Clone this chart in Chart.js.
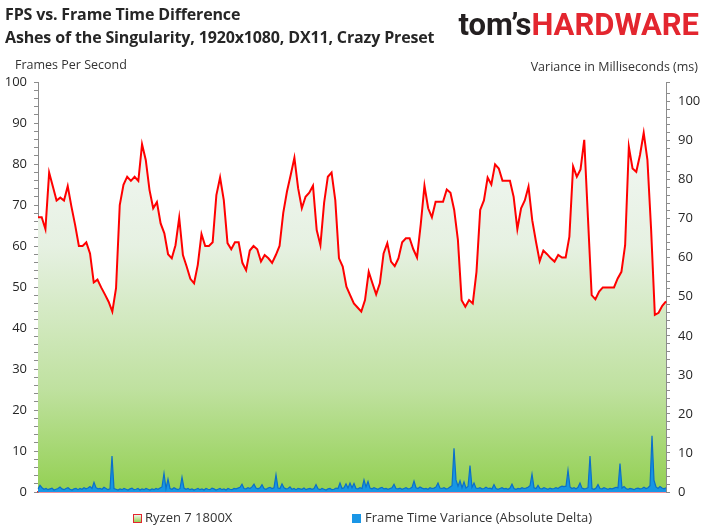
<!DOCTYPE html>
<html>
<head>
<meta charset="utf-8">
<script src="https://cdn.jsdelivr.net/npm/chart.js@4.4.1/dist/chart.umd.min.js"></script>
<style>
  html, body { margin: 0; padding: 0; background: #fff; }
  #wrap { position: relative; width: 708px; height: 531px; overflow: hidden; font-family: "Open Sans", sans-serif; color: #262626; }
  #wrap canvas { position: absolute; left: 0; top: 0; }
  .txt { position: absolute; white-space: nowrap; line-height: 1; }
  .title { font-weight: bold; font-size: 16px; left: 5px; letter-spacing: -0.15px; }
  .axt { font-size: 12.5px; color: #333; }
  .logo { top: 9px; right: 9px; font-family: Roboto, sans-serif; font-weight: bold; font-size: 31px; letter-spacing: 0; }
  .logo .a { color: #231f20; }
  .logo .b { color: #e3262f; }
  .leg { font-size: 13px; color: #333; top: 511px; }
  .box { position: absolute; width: 7px; height: 7px; top: 514px; }
</style>
</head>
<body>
<div id="wrap">
  <canvas id="fpsChart" width="708" height="531"></canvas>
  <div class="txt title" style="top:6px">FPS vs. Frame Time Difference</div>
  <div class="txt title" style="top:29px">Ashes of the Singularity, 1920x1080, DX11, Crazy Preset</div>
  <div class="txt logo"><span class="a">tom’s</span><span class="b">HARDWARE</span></div>
  <div class="txt axt" style="left:15px; top:59px">Frames Per Second</div>
  <div class="txt axt" style="right:10px; top:61px">Variance in Milliseconds (ms)</div>
  <div class="box" style="left:133px; border:1.5px solid #e3262f; background:linear-gradient(#eef6ea,#92d050)"></div>
  <div class="txt leg" style="left:145px">Ryzen 7 1800X</div>
  <div class="box" style="left:352px; width:9px; height:9px; background:#1a96e6"></div>
  <div class="txt leg" style="left:365px">Frame Time Variance (Absolute Delta)</div>
</div>
<script>
// FPS samples (left axis)
const fpsValues = [
  67.0, 67.0, 64.1, 77.9, 74.5, 71.1, 71.8, 71.1, 74.6, 69.6,
  65.1, 60.0, 60.0, 60.9, 58.2, 51.1, 51.8, 49.9, 48.2, 46.4,
  44.0, 49.7, 70.0, 74.9, 76.9, 75.9, 76.9, 75.9, 84.8, 81.0,
  73.7, 69.2, 70.7, 65.5, 63.1, 58.0, 57.0, 60.2, 66.9, 57.8,
  55.0, 52.0, 50.9, 55.4, 62.9, 60.0, 60.0, 60.9, 72.4, 76.7,
  71.2, 60.7, 59.2, 60.9, 60.9, 55.9, 54.1, 58.9, 60.0, 59.2,
  56.2, 57.8, 57.0, 55.9, 57.8, 60.0, 68.1, 73.3, 77.3, 81.5,
  74.1, 69.2, 72.0, 73.0, 74.7, 63.9, 60.2, 70.6, 76.9, 77.9,
  71.2, 57.0, 55.0, 50.1, 48.0, 46.0, 45.0, 44.0, 46.8, 53.7,
  50.9, 48.2, 50.9, 58.2, 60.7, 56.2, 55.1, 57.0, 60.9, 61.9,
  61.9, 59.2, 57.2, 65.3, 74.7, 69.2, 67.0, 70.8, 70.8, 70.8,
  73.8, 73.0, 68.8, 61.5, 46.8, 45.2, 46.8, 46.0, 53.7, 68.8,
  71.1, 76.7, 75.0, 79.9, 78.9, 75.9, 75.9, 75.9, 72.0, 64.1,
  69.2, 71.1, 74.5, 66.3, 61.1, 56.3, 58.9, 58.0, 57.0, 56.2,
  57.8, 57.2, 57.2, 62.3, 79.4, 76.9, 78.7, 85.9, 66.8, 48.0,
  47.0, 48.9, 49.9, 49.9, 49.9, 49.9, 52.1, 53.7, 60.2, 84.2,
  78.9, 78.1, 82.2, 87.6, 81.0, 63.9, 43.2, 43.7, 45.4, 46.5
];

// frame time variance in ms (right axis), per frame
const varianceValues = [
  0.8, 1.7, 1.1, 0.7, 0.9, 0.6, 0.8, 1.0, 0.5, 0.7, 0.9, 1.3, 0.8, 0.6, 0.9, 1.1, 0.7, 0.5, 0.8, 0.9,
  0.6, 0.9, 0.7, 1.1, 0.8, 1.0, 1.4, 0.9, 2.5, 1.1, 0.8, 0.9, 0.7, 1.2, 0.9, 0.6, 0.8, 9.2, 0.9, 0.7,
  0.5, 0.8, 0.6, 0.9, 0.7, 0.5, 0.8, 1.0, 0.6, 0.7, 0.9, 0.5, 0.8, 0.6, 0.9, 0.7, 0.5, 0.8, 0.6, 0.9,
  0.7, 1.0, 1.3, 4.8, 0.9, 3.3, 0.9, 0.7, 1.1, 0.8, 0.6, 0.9, 3.8, 1.0, 0.7, 0.9, 0.6, 0.8, 0.5, 0.7,
  0.9, 0.6, 0.8, 0.5, 0.9, 0.7, 0.6, 1.0, 0.8, 0.5, 0.7, 0.9, 0.6, 0.8, 0.5, 0.9, 0.7, 0.6, 0.9, 0.8,
  1.0, 1.2, 2.0, 0.9, 0.8, 1.1, 0.9, 1.3, 2.0, 1.0, 0.8, 1.1, 1.9, 0.9, 0.7, 1.0, 1.2, 0.9, 1.1, 4.4,
  1.0, 0.9, 2.1, 1.1, 0.8, 0.9, 1.3, 0.7, 0.9, 0.6, 0.9, 0.8, 0.7, 1.0, 0.6, 0.8, 0.9, 0.7, 0.9, 1.9,
  0.8, 0.6, 0.9, 0.7, 0.5, 0.8, 0.9, 0.6, 0.7, 1.0, 0.9, 2.3, 0.9, 1.1, 2.1, 1.0, 2.3, 1.1, 2.2, 0.9,
  0.8, 1.1, 0.9, 3.1, 1.3, 2.7, 1.0, 0.8, 1.1, 0.9, 0.7, 1.0, 1.2, 0.8, 0.9, 0.7, 0.9, 1.1, 2.0, 0.9,
  0.8, 1.0, 0.7, 0.9, 1.1, 0.8, 0.9, 1.2, 2.8, 1.1, 0.9, 1.3, 1.0, 0.8, 0.9, 0.7, 1.1, 0.9, 1.0, 1.3,
  2.3, 1.0, 0.9, 1.1, 0.8, 0.9, 1.3, 1.6, 11.2, 3.1, 1.5, 2.9, 1.1, 2.6, 1.0, 1.4, 6.8, 1.2, 2.3, 1.0,
  0.9, 1.1, 0.8, 0.9, 1.2, 0.9, 1.0, 0.8, 1.9, 0.9, 0.7, 0.9, 1.1, 0.8, 0.9, 0.7, 1.0, 2.0, 0.9, 0.7,
  0.9, 0.8, 1.1, 0.9, 1.0, 1.2, 1.6, 4.6, 1.1, 0.9, 1.7, 0.9, 0.8, 1.1, 0.9, 0.7, 1.0, 0.8, 0.9, 1.1,
  0.9, 1.3, 1.5, 1.4, 1.5, 5.6, 1.3, 0.9, 1.1, 0.8, 1.2, 2.3, 1.0, 0.8, 0.9, 1.1, 9.2, 0.9, 0.7, 1.0,
  1.9, 0.9, 0.8, 1.1, 0.9, 0.7, 0.9, 0.8, 1.0, 1.2, 1.1, 7.3, 1.0, 1.4, 0.9, 0.7, 0.9, 0.8, 0.6, 0.9,
  1.0, 0.8, 0.9, 1.2, 0.9, 1.1, 1.6, 14.4, 3.0, 1.3, 0.9, 1.4, 1.0, 0.8, 1.1
];

const fpsLabels = fpsValues.map((v, i) => i + 1);
const varianceLabels = varianceValues.map((v, i) => i + 1);

const fpsMax = 100;
const varianceMax = 105;

const axisGray = '#8c8c8c';
const tickFont = { family: 'Open Sans', size: 13 };

function fpsGradient(context) {
  const chart = context.chart;
  const area = chart.chartArea;
  if (!area) return 'rgba(146,208,80,0.5)';
  const g = chart.ctx.createLinearGradient(0, area.top, 0, area.bottom);
  g.addColorStop(0, '#f8fafc');
  g.addColorStop(0.4, '#e6f1e2');
  g.addColorStop(0.75, '#bfe19f');
  g.addColorStop(1, '#93d052');
  return g;
}

const tenOnly = v => (v % 10 === 0 ? v : '');

new Chart(document.getElementById('fpsChart'), {
  type: 'line',
  data: {
    datasets: [
      {
        label: 'Frame Time Variance (Absolute Delta)',
        data: varianceValues,
        xAxisID: 'x2', yAxisID: 'y2',
        borderColor: '#0b6fc8', borderWidth: 1.2,
        backgroundColor: '#1796e4',
        fill: 'origin', pointRadius: 0, tension: 0, order: 0
      },
      {
        label: 'Ryzen 7 1800X',
        data: fpsValues,
        xAxisID: 'x', yAxisID: 'y',
        borderColor: '#ff0000', borderWidth: 2,
        backgroundColor: fpsGradient,
        fill: 'origin', pointRadius: 0, tension: 0, order: 1
      }
    ]
  },
  options: {
    responsive: false, animation: false,
    layout: { padding: { top: 82, bottom: 39, left: 0, right: 0 } },
    plugins: { legend: { display: false }, tooltip: { enabled: false } },
    scales: {
      x: {
        type: 'category', labels: fpsLabels, offset: false,
        ticks: { display: false },
        grid: { display: true, drawOnChartArea: false, drawTicks: false },
        border: { display: true, color: '#e8203a', width: 1.5 },
        afterFit: s => { s.height = 0; }
      },
      x2: {
        type: 'category', labels: varianceLabels, offset: false, display: false
      },
      y: {
        position: 'left', min: 0, max: fpsMax,
        ticks: { stepSize: 2, autoSkip: false, callback: tenOnly, font: tickFont, color: '#262626', padding: 7 },
        grid: { drawOnChartArea: false, tickLength: 4, color: axisGray },
        border: { color: axisGray },
        afterFit: s => { s.width = 38; }
      },
      y2: {
        position: 'right', min: 0, max: varianceMax,
        ticks: { stepSize: 2, autoSkip: false, callback: tenOnly, font: tickFont, color: '#262626', padding: 8 },
        grid: { drawOnChartArea: false, tickLength: 4, color: axisGray },
        border: { color: axisGray },
        afterFit: s => { s.width = 42; }
      }
    }
  }
});
</script>
</body>
</html>
